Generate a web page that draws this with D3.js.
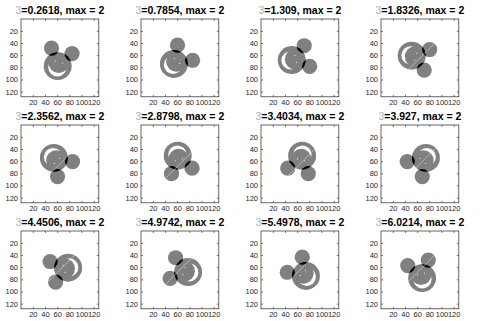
<!DOCTYPE html>
<html>
<head>
<meta charset="utf-8">
<script src="https://cdn.jsdelivr.net/npm/d3@7"></script>
<style>
  body { margin: 0; background: #fff; }
  text { font-family: "Liberation Sans", Arial, sans-serif; }
</style>
</head>
<body>
<svg id="fig" width="484" height="321"></svg>
<script>
// rotation angle of each panel (radians), as printed in the titles
var thetas = [0.2618, 0.7854, 1.309, 1.8326, 2.3562, 2.8798,
              3.4034, 3.927, 4.4506, 4.9742, 5.4978, 6.0214];
var maxVal = 2;
var xTicks = [20, 40, 60, 80, 100, 120];
var yTicks = [20, 40, 60, 80, 100, 120];
var imgSize = 128;

// the mouse, in image pixels, unrotated, relative to the image centre
var faceCenter = [0, 14], faceR = 23;
var earCenters = [[-17.5, -12], [17.5, -12]], earR = 12.5;
var smileOuter = [0, 16], smileOuterR = 15;
var smileInner = [0, 8], smileInnerR = 17;
var eyeCenters = [[-6, 7], [6, 7]], eyeR = 0.9;

// layout of the 3 x 4 grid
var nCols = 4, size = 77.8;
var left0 = 21, top0 = 19, colStep = 120, rowStep = 106;

var svg = d3.select('#fig');
var color = d3.scaleLinear().domain([0, maxVal]).range(['#ffffff', '#000000']);

/**
 * rotate a point around the image centre.
 */
function rot(p, th) {
    var c = Math.cos(th), s = Math.sin(th);
    var mid = (imgSize + 1) / 2;
    return [mid + p[0] * c - p[1] * s, mid + p[0] * s + p[1] * c];
}

thetas.forEach(function(th, i) {
    var col = i % nCols, row = Math.floor(i / nCols);
    var gx = left0 + col * colStep, gy = top0 + row * rowStep;

    var x = d3.scaleLinear().domain([0.5, imgSize + 0.5]).range([0, size]);
    var y = d3.scaleLinear().domain([0.5, imgSize + 0.5]).range([0, size]);
    var k = x(2) - x(1);

    var g = svg.append('g').attr('transform', 'translate(' + gx + ',' + gy + ')');

    // clip paths: axes area, face disk, union of all blobs
    var defs = g.append('defs');
    defs.append('clipPath').attr('id', 'area' + i)
        .append('rect').attr('width', size).attr('height', size);
    var fc = rot(faceCenter, th);
    defs.append('clipPath').attr('id', 'face' + i)
        .append('circle').attr('cx', x(fc[0])).attr('cy', y(fc[1])).attr('r', faceR * k);
    var blob = defs.append('clipPath').attr('id', 'blob' + i);
    blob.append('circle').attr('cx', x(fc[0])).attr('cy', y(fc[1])).attr('r', faceR * k);
    earCenters.forEach(function(e) {
        var p = rot(e, th);
        blob.append('circle').attr('cx', x(p[0])).attr('cy', y(p[1])).attr('r', earR * k);
    });

    var img = g.append('g').attr('clip-path', 'url(#area' + i + ')');
    img.append('rect').attr('width', size).attr('height', size).attr('fill', color(0));

    // face
    img.append('circle').attr('cx', x(fc[0])).attr('cy', y(fc[1]))
        .attr('r', faceR * k).attr('fill', color(1));
    // smile: outer disk cleared, inner disk filled back
    var so = rot(smileOuter, th), si = rot(smileInner, th);
    img.append('circle').attr('cx', x(so[0])).attr('cy', y(so[1]))
        .attr('r', smileOuterR * k).attr('fill', color(0));
    img.append('circle').attr('cx', x(si[0])).attr('cy', y(si[1]))
        .attr('r', smileInnerR * k).attr('fill', color(1))
        .attr('clip-path', 'url(#face' + i + ')');
    // eyes
    eyeCenters.forEach(function(e) {
        var p = rot(e, th);
        img.append('circle').attr('cx', x(p[0])).attr('cy', y(p[1]))
            .attr('r', eyeR * k).attr('fill', color(0));
    });
    // ears, and where they overlap the face the value adds up to 2
    earCenters.forEach(function(e) {
        var p = rot(e, th);
        img.append('circle').attr('cx', x(p[0])).attr('cy', y(p[1]))
            .attr('r', earR * k).attr('fill', color(1));
        img.append('circle').attr('cx', x(p[0])).attr('cy', y(p[1]))
            .attr('r', earR * k).attr('fill', color(2))
            .attr('clip-path', 'url(#face' + i + ')');
    });
    // faint anti-diagonal seam left by the rotation
    if (i >= 3) {
        img.append('line')
            .attr('x1', x(0.5)).attr('y1', y(imgSize + 0.5))
            .attr('x2', x(imgSize + 0.5)).attr('y2', y(0.5))
            .attr('stroke', '#ffffff').attr('stroke-opacity', 0.6)
            .attr('stroke-width', 0.7)
            .attr('clip-path', 'url(#blob' + i + ')');
    }

    // axes, ticks pointing inwards on all four sides
    var axStyle = function(sel) {
        sel.select('.domain').remove();
        sel.selectAll('line').attr('stroke', '#262626').attr('stroke-width', 0.6);
        sel.selectAll('text').attr('fill', '#262626').style('font-size', '7.5px')
            .style('font-family', '"Liberation Sans", Arial, sans-serif');
    };
    g.append('g').call(d3.axisLeft(y).tickValues(yTicks).tickSizeInner(-2)
        .tickSizeOuter(0).tickPadding(3)).call(axStyle);
    g.append('g').attr('transform', 'translate(0,' + size + ')')
        .call(d3.axisBottom(x).tickValues(xTicks).tickSizeInner(-2)
        .tickSizeOuter(0).tickPadding(2.5)).call(axStyle);
    g.append('g').attr('transform', 'translate(' + size + ',0)')
        .call(d3.axisRight(y).tickValues(yTicks).tickSizeInner(-2)
        .tickSizeOuter(0).tickFormat('')).call(axStyle);
    g.append('g')
        .call(d3.axisTop(x).tickValues(xTicks).tickSizeInner(-2)
        .tickSizeOuter(0).tickFormat('')).call(axStyle);
    g.append('rect').attr('width', size).attr('height', size)
        .attr('fill', 'none').attr('stroke', '#262626').attr('stroke-width', 0.7);

    // title
    var t = g.append('text').attr('x', size / 2).attr('y', -5)
        .attr('text-anchor', 'middle').style('font-size', '10.5px');
    t.append('tspan').attr('fill', '#b0b0b0').text('3');
    t.append('tspan').attr('fill', '#000').attr('font-weight', 'bold')
        .text('=' + th + ', max = ' + maxVal);
});
</script>
</body>
</html>
